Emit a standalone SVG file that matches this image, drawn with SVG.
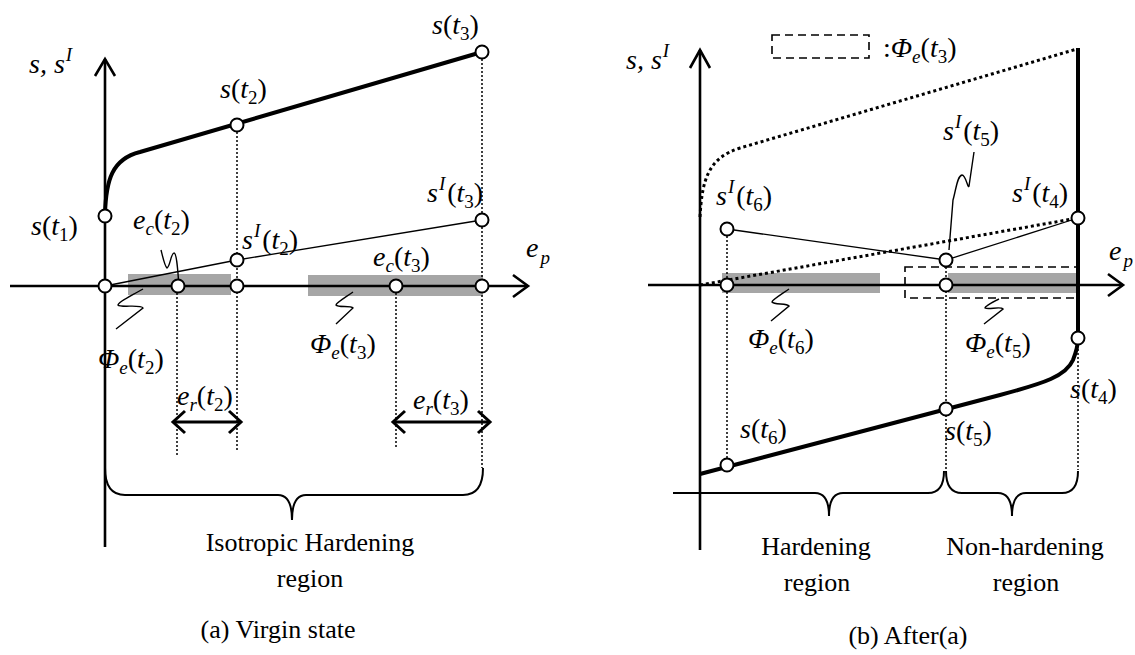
<svg xmlns="http://www.w3.org/2000/svg" width="1135" height="655" viewBox="0 0 1135 655">
<style>
.ax{fill:none;stroke:#000;stroke-width:2.6;stroke-linejoin:miter}
.thick{fill:none;stroke:#000;stroke-width:4;stroke-linejoin:round}
.thin{fill:none;stroke:#000;stroke-width:1.3}
.dot{fill:none;stroke:#000;stroke-width:1.5;stroke-dasharray:2 2}
.dotb{fill:none;stroke:#000;stroke-width:3;stroke-dasharray:3 3}
.dash{fill:none;stroke:#000;stroke-width:1.6;stroke-dasharray:8 5}
.gray{fill:#a6a6a6}
.pt{fill:#fff;stroke:#000;stroke-width:2}
.lead{fill:none;stroke:#000;stroke-width:1.4}
.brace{fill:none;stroke:#000;stroke-width:2}
.m{font-family:"Liberation Serif","Times New Roman",serif;font-style:italic;font-size:28px;fill:#000}
.u{font-style:normal}
.sb{font-size:19px}
.t{font-family:"Liberation Serif","Times New Roman",serif;font-size:26px;fill:#000;text-anchor:middle}
</style>

<!-- ================= Panel (a) ================= -->
<g id="panel-a">
  <g id="a-bands">
    <rect class="gray" x="128" y="274" width="103" height="21"/>
    <rect class="gray" x="308" y="275" width="175" height="21"/>
  </g>
  <g id="a-axes">
    <path class="ax" d="M105,59 L105,547"/>
    <path class="ax" d="M95,76 L105,59 L115,76"/>
    <path class="ax" d="M10,286 L528,286"/>
    <path class="ax" d="M513,275 L528,286 L513,297"/>
  </g>
  <g id="a-connectors">
    <path class="dot" d="M177,293 L177,456"/>
    <path class="dot" d="M237,132 L237,452"/>
    <path class="dot" d="M396,293 L396,447"/>
    <path class="dot" d="M482,59 L482,468"/>
    <path class="thick" d="M105,214 C106,180 112,159 140,152 L482,52"/>
    <path class="thin" d="M105,286 L237,260 L482,220"/>
    <path class="lead" d="M161,250 C163,258 165,267 167,268 C170,267 171,253 174,253 C177,253 178,275 179,286"/>
    <path class="lead" d="M143,289 C131,296 118,302 118,305 C120,308 141,304 143,308 L116,329"/>
    <path class="lead" d="M353,292 C346,297 336,303 336,305 C338,308 351,305 353,308 L336,324"/>
    <g id="a-er2">
      <path class="ax" style="stroke-width:3" d="M173,422 L241,422"/>
      <path class="ax" style="stroke-width:3" d="M185,411 L173,422 L185,433"/>
      <path class="ax" style="stroke-width:3" d="M229,411 L241,422 L229,433"/>
    </g>
    <g id="a-er3">
      <path class="ax" style="stroke-width:3" d="M393,422 L490,422"/>
      <path class="ax" style="stroke-width:3" d="M405,411 L393,422 L405,433"/>
      <path class="ax" style="stroke-width:3" d="M478,411 L490,422 L478,433"/>
    </g>
    <path class="brace" d="M105,468 Q105,495 125,495 L278,495 Q292,495 292,520 Q292,495 306,495 L463,495 Q483,495 483,468"/>
  </g>
  <g id="a-points">
    <circle class="pt" cx="105" cy="216" r="6.5"/>
    <circle class="pt" cx="105" cy="286" r="6.5"/>
    <circle class="pt" cx="178" cy="286" r="6.5"/>
    <circle class="pt" cx="237" cy="286" r="6.5"/>
    <circle class="pt" cx="237" cy="260" r="6.5"/>
    <circle class="pt" cx="237" cy="125" r="6.5"/>
    <circle class="pt" cx="396" cy="286" r="6.5"/>
    <circle class="pt" cx="482" cy="286" r="6.5"/>
    <circle class="pt" cx="482" cy="220" r="6.5"/>
    <circle class="pt" cx="482" cy="52" r="6.5"/>
  </g>
  <g id="a-labels">
    <text class="m" x="29" y="73">s, s<tspan class="sb" dx="1" dy="-12">I</tspan></text>
    <text class="m" x="220" y="98">s<tspan class="u">(</tspan>t<tspan class="u sb" dy="6">2</tspan><tspan class="u" dy="-6">)</tspan></text>
    <text class="m" x="432" y="34">s<tspan class="u">(</tspan>t<tspan class="u sb" dy="6">3</tspan><tspan class="u" dy="-6">)</tspan></text>
    <text class="m" x="31" y="235">s<tspan class="u">(</tspan>t<tspan class="u sb" dy="6">1</tspan><tspan class="u" dy="-6">)</tspan></text>
    <text class="m" x="133" y="229">e<tspan class="sb" dy="6">c</tspan><tspan class="u" dy="-6">(</tspan>t<tspan class="u sb" dy="6">2</tspan><tspan class="u" dy="-6">)</tspan></text>
    <text class="m" x="242" y="249">s<tspan class="sb" dx="1" dy="-12">I</tspan><tspan class="u" dx="2" dy="12">(</tspan>t<tspan class="u sb" dy="6">2</tspan><tspan class="u" dy="-6">)</tspan></text>
    <text class="m" x="427" y="202">s<tspan class="sb" dx="1" dy="-12">I</tspan><tspan class="u" dx="2" dy="12">(</tspan>t<tspan class="u sb" dy="6">3</tspan><tspan class="u" dy="-6">)</tspan></text>
    <text class="m" x="373" y="266">e<tspan class="sb" dy="6">c</tspan><tspan class="u" dy="-6">(</tspan>t<tspan class="u sb" dy="6">3</tspan><tspan class="u" dy="-6">)</tspan></text>
    <text class="m" x="526" y="257">e<tspan class="sb" dx="2" dy="7">p</tspan></text>
    <text class="m" x="98" y="368">Φ<tspan class="sb" dy="6">e</tspan><tspan class="u" dy="-6">(</tspan>t<tspan class="u sb" dy="6">2</tspan><tspan class="u" dy="-6">)</tspan></text>
    <text class="m" x="310" y="353">Φ<tspan class="sb" dy="6">e</tspan><tspan class="u" dy="-6">(</tspan>t<tspan class="u sb" dy="6">3</tspan><tspan class="u" dy="-6">)</tspan></text>
    <text class="m" x="177" y="405">e<tspan class="sb" dy="6">r</tspan><tspan class="u" dy="-6">(</tspan>t<tspan class="u sb" dy="6">2</tspan><tspan class="u" dy="-6">)</tspan></text>
    <text class="m" x="413" y="409">e<tspan class="sb" dy="6">r</tspan><tspan class="u" dy="-6">(</tspan>t<tspan class="u sb" dy="6">3</tspan><tspan class="u" dy="-6">)</tspan></text>
    <text class="t" x="310" y="551">Isotropic Hardening</text>
    <text class="t" x="310" y="587">region</text>
    <text class="t" x="278" y="638">(a) Virgin state</text>
  </g>
</g>

<!-- ================= Panel (b) ================= -->
<g id="panel-b">
  <g id="b-bands">
    <rect class="gray" x="722" y="273" width="158" height="20"/>
    <rect class="gray" x="948" y="273" width="129" height="20"/>
  </g>
  <g id="b-axes">
    <path class="ax" d="M700,50 L700,550"/>
    <path class="ax" d="M690,68 L700,50 L710,68"/>
    <path class="ax" d="M648,285 L1123,285"/>
    <path class="ax" d="M1108,274 L1123,285 L1108,296"/>
    <path class="ax" style="stroke-width:2" d="M673,493 L775,493"/>
  </g>
  <g id="b-legend">
    <rect class="dash" x="772" y="35" width="97" height="23"/>
    <text class="m" x="883" y="57"><tspan class="u">:</tspan>Φ<tspan class="sb" dy="6">e</tspan><tspan class="u" dy="-6">(</tspan>t<tspan class="u sb" dy="6">3</tspan><tspan class="u" dy="-6">)</tspan></text>
  </g>
  <g id="b-connectors">
    <rect class="dash" x="905" y="267" width="173" height="31"/>
    <path class="dotb" d="M700,217 C702,180 708,158 740,148 L1077,49"/>
    <path class="dotb" d="M700,285 L1078,218"/>
    <path class="dot" d="M727,236 L727,458"/>
    <path class="dot" d="M946,267 L946,470"/>
    <path class="dot" d="M1078,345 L1078,470"/>
    <path class="thick" d="M1078,48 L1078,338"/>
    <path class="thick" d="M700,474 L1000,395 C1045,383 1066,376 1073,360 C1077,350 1078,344 1078,338"/>
    <path class="thin" d="M727,229 L946,260 L1078,218"/>
    <path class="lead" d="M974,152 L969,186 C968,190 966,175 962,175 C957,176 956,190 953,200 L949,250"/>
    <path class="lead" d="M789,289 C782,294 772,300 772,302 C774,305 787,303 789,306 L771,321"/>
    <path class="lead" d="M999,299 C993,302 985,306 985,308 C988,310 1001,306 1003,309 L984,324"/>
    <path class="brace" d="M775,493 L815,493 Q829,493 829,516 Q829,493 843,493 L928,493 Q944,493 944,471"/>
    <path class="brace" d="M946,471 Q946,493 962,493 L998,493 Q1012,493 1012,516 Q1012,493 1026,493 L1062,493 Q1078,493 1078,471"/>
  </g>
  <g id="b-points">
    <circle class="pt" cx="727" cy="229" r="6.5"/>
    <circle class="pt" cx="727" cy="285" r="6.5"/>
    <circle class="pt" cx="946" cy="260" r="6.5"/>
    <circle class="pt" cx="946" cy="285" r="6.5"/>
    <circle class="pt" cx="1078" cy="218" r="6.5"/>
    <circle class="pt" cx="1078" cy="338" r="6.5"/>
    <circle class="pt" cx="946" cy="409" r="6.5"/>
    <circle class="pt" cx="727" cy="465" r="6.5"/>
  </g>
  <g id="b-labels">
    <text class="m" x="626" y="69">s, s<tspan class="sb" dx="1" dy="-12">I</tspan></text>
    <text class="m" x="716" y="205">s<tspan class="sb" dx="1" dy="-12">I</tspan><tspan class="u" dx="2" dy="12">(</tspan>t<tspan class="u sb" dy="6">6</tspan><tspan class="u" dy="-6">)</tspan></text>
    <text class="m" x="943" y="140">s<tspan class="sb" dx="1" dy="-12">I</tspan><tspan class="u" dx="2" dy="12">(</tspan>t<tspan class="u sb" dy="6">5</tspan><tspan class="u" dy="-6">)</tspan></text>
    <text class="m" x="1012" y="202">s<tspan class="sb" dx="1" dy="-12">I</tspan><tspan class="u" dx="2" dy="12">(</tspan>t<tspan class="u sb" dy="6">4</tspan><tspan class="u" dy="-6">)</tspan></text>
    <text class="m" x="1109" y="260">e<tspan class="sb" dx="2" dy="7">p</tspan></text>
    <text class="m" x="748" y="348">Φ<tspan class="sb" dy="6">e</tspan><tspan class="u" dy="-6">(</tspan>t<tspan class="u sb" dy="6">6</tspan><tspan class="u" dy="-6">)</tspan></text>
    <text class="m" x="965" y="352">Φ<tspan class="sb" dy="6">e</tspan><tspan class="u" dy="-6">(</tspan>t<tspan class="u sb" dy="6">5</tspan><tspan class="u" dy="-6">)</tspan></text>
    <text class="m" x="740" y="438">s<tspan class="u">(</tspan>t<tspan class="u sb" dy="6">6</tspan><tspan class="u" dy="-6">)</tspan></text>
    <text class="m" x="945" y="440">s<tspan class="u">(</tspan>t<tspan class="u sb" dy="6">5</tspan><tspan class="u" dy="-6">)</tspan></text>
    <text class="m" x="1070" y="398">s<tspan class="u">(</tspan>t<tspan class="u sb" dy="6">4</tspan><tspan class="u" dy="-6">)</tspan></text>
    <text class="t" x="816" y="555">Hardening</text>
    <text class="t" x="817" y="591">region</text>
    <text class="t" x="1025" y="555">Non-hardening</text>
    <text class="t" x="1026" y="591">region</text>
    <text class="t" x="908" y="644">(b) After(a)</text>
  </g>
</g>
</svg>
